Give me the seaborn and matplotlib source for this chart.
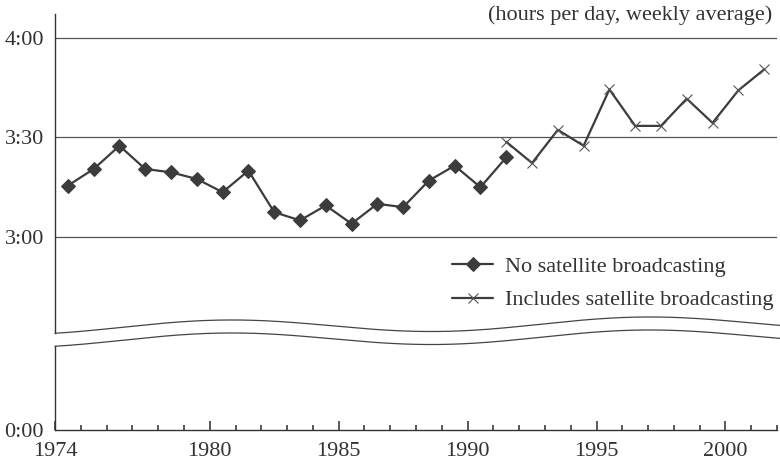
import numpy as np
import matplotlib
matplotlib.use("Agg")
import matplotlib.pyplot as plt
import seaborn as sns
from matplotlib.lines import Line2D
from matplotlib.ticker import FixedLocator, MultipleLocator

# minutes of TV viewing per day (weekly average)
years_no_sat = list(range(1974, 1992))
no_sat = [195.5, 200.5, 207.5, 200.5, 199.5, 197.5, 193.5, 200.0, 187.5,
          185.0, 189.5, 184.0, 190.0, 189.0, 197.0, 201.5, 195.0, 204.0]
years_incl_sat = list(range(1991, 2002))
incl_sat = [208.7, 202.3, 212.3, 207.5, 224.5, 213.5, 213.5, 221.7, 214.4,
            224.2, 230.5]
x_ticks = [1974, 1980, 1985, 1990, 1995, 2000]
y_ticks_top = [180, 210, 240]
y_labels_top = ["3:00", "3:30", "4:00"]

sns.set_style("white")
plt.rcParams['font.family'] = ['Liberation Serif', 'DejaVu Serif']
plt.rcParams['xtick.bottom'] = True
plt.rcParams['xtick.direction'] = 'in'

ink = '#333333'
W, H = 780, 463
fig = plt.figure(figsize=(W / 100, H / 100), dpi=100)


def box(left, top, right, bottom):
    return [left / W, 1 - bottom / H, (right - left) / W, (bottom - top) / H]


ax_top = fig.add_axes(box(55, 14, 777, 333))
ax_bot = fig.add_axes(box(55, 346, 777, 430))

# points sit in the middle of each year
sns.lineplot(x=np.array(years_no_sat) + 0.5, y=no_sat, ax=ax_top, color='#3c3c3c',
             linewidth=1.6, marker='D', markersize=7.5, markeredgecolor='#3c3c3c',
             label='No satellite broadcasting')
sns.lineplot(x=np.array(years_incl_sat) + 0.5, y=incl_sat, ax=ax_top, color='#3c3c3c',
             linewidth=1.6, marker='x', markersize=7, markeredgewidth=0.8,
             markeredgecolor='#555555', label='Includes satellite broadcasting')

for ax in (ax_top, ax_bot):
    ax.set_xlim(1974, 2002)
    ax.set_facecolor('none')
    ax.spines['top'].set_visible(False)
    ax.spines['right'].set_visible(False)
    ax.spines['left'].set_color(ink)
    ax.spines['left'].set_linewidth(1.0)
    ax.set_xlabel('')
    ax.set_ylabel('')

ax_top.set_ylim(151.06, 247.23)
ax_top.spines['bottom'].set_visible(False)
ax_top.set_xticks([])
ax_top.set_yticks(y_ticks_top)
ax_top.set_yticklabels(y_labels_top)
ax_top.tick_params(axis='y', length=0, pad=8, labelsize=16, labelcolor=ink)
for v in y_ticks_top:
    ax_top.axhline(v, color='#555555', linewidth=0.9, zorder=1)

ax_bot.set_ylim(0, 100)
ax_bot.set_yticks([0])
ax_bot.set_yticklabels(["0:00"])
ax_bot.tick_params(axis='y', length=0, pad=8, labelsize=16, labelcolor=ink)
ax_bot.spines['bottom'].set_color(ink)
ax_bot.spines['bottom'].set_linewidth(1.0)
ax_bot.xaxis.set_major_locator(FixedLocator(x_ticks))
ax_bot.xaxis.set_minor_locator(MultipleLocator(1))
ax_bot.tick_params(axis='x', which='both', direction='in', color='#2a2a2a',
                   width=1.1, bottom=True)
ax_bot.tick_params(axis='x', which='major', length=6.5, pad=9, labelsize=16,
                   labelcolor=ink)
ax_bot.tick_params(axis='x', which='minor', length=3.6)

ax_top.legend(loc='upper left', bbox_to_anchor=(0.55, 0.24), frameon=False,
              fontsize=16, borderpad=0, borderaxespad=0, handlelength=1.85,
              handletextpad=0.55, labelspacing=0.58, labelcolor=ink)

# wavy axis break
xs = np.linspace(55, 780, 300)
y_up = 326.5 - 3 * (xs - 227) / 418 - 6.5 * np.cos(2 * np.pi * (xs - 227) / 418)
for off in (0, 13):
    fig.add_artist(Line2D(xs / W, 1 - (y_up + off) / H, color='#444444',
                          linewidth=0.9, transform=fig.transFigure))

fig.text(772 / W, 1 - 15 / H, '(hours per day, weekly average)', ha='right',
         va='center', fontsize=16, color=ink)

fig.savefig('out.png', dpi=100)
